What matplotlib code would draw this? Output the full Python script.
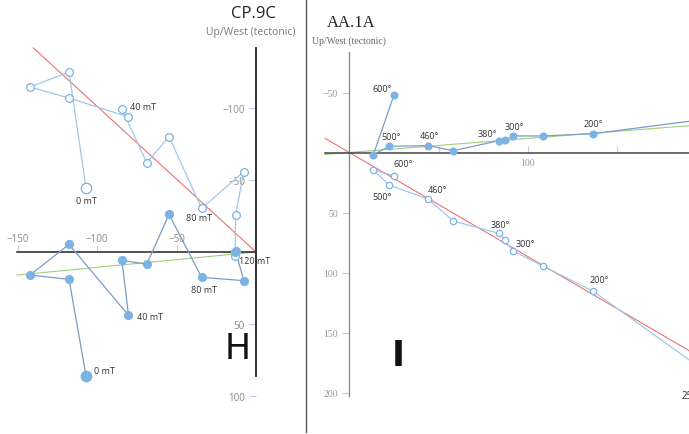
import matplotlib
matplotlib.use('Agg')
import matplotlib.pyplot as plt
from matplotlib.lines import Line2D

W, H = 689, 435

# ---- CP.9C (AF steps), shared horizontal coordinate; filled = horizontal, open = vertical
cp_x     = [-106.9, -117.6, -142.1, -117.6, -80.2, -84.3, -68.7, -54.7, -34.2, -7.7, -12.8, -13.2]
cp_horiz = [85.9, 19.0, 16.0, -5.3, 44.0, 5.8, 8.5, -26.2, 17.6, 19.9, -0.5, -0.3]
cp_vert  = [-44.4, -125.0, -114.6, -106.9, -93.8, -99.3, -62.0, -80.1, -30.3, -55.8, -25.7, 3.0]
cp_fit_red_x, cp_fit_red_y = [-140.0, 0.0], [-141.7, 0.0]
cp_fit_green_x, cp_fit_green_y = [-150.3, 0.0], [16.0, 0.0]
cp_open_labels = {0: '0 mT', 4: '40 mT', 8: '80 mT', 11: '120 mT'}
cp_filled_labels = {0: '0 mT', 4: '40 mT', 8: '80 mT'}

# ---- AA.1A (thermal steps)
aa_x     = [25.1, 13.5, 22.4, 44.3, 58.3, 83.7, 87.1, 91.9, 108.7, 136.8, 230.0]
aa_horiz = [-48.2, 1.8, -5.2, -5.7, -1.5, -9.8, -10.2, -13.8, -13.8, -15.7, -33.6]
aa_vert  = [19.3, 14.8, 27.1, 39.0, 57.1, 67.3, 73.2, 82.1, 94.8, 115.7, 214.8]
aa_fit_red_x, aa_fit_red_y = [-13.6, 230.0], [-11.8, 199.4]
aa_fit_green_x, aa_fit_green_y = [-13.6, 230.0], [1.6, -27.0]
aa_filled_labels = {0: '600°', 2: '500°', 3: '460°', 5: '380°', 7: '300°', 9: '200°'}
aa_open_labels = {0: '600°', 2: '500°', 3: '460°', 5: '380°', 7: '300°', 9: '200°'}

PT = '#7db3e3'
LINE_H = '#7a9cca'
LINE_V = '#a0c8ee'
RED = '#f07070'
GREEN = '#9dd07c'
SANS = 'Open Sans'
SERIF = 'Liberation Serif'

fig = plt.figure(figsize=(W / 100, H / 100), dpi=100)


def frame(rect, origin, scale):
    # rect: left, top, right, bottom in pixels; y grows downwards in the data
    x0, y0, x1, y1 = rect
    ax = fig.add_axes([x0 / W, 1 - y1 / H, (x1 - x0) / W, (y1 - y0) / H])
    ox, oy = origin
    sx, sy = scale
    ax.set_xlim((x0 - ox) / sx, (x1 - ox) / sx)
    ax.set_ylim((y1 - oy) / sy, (y0 - oy) / sy)
    ax.patch.set_alpha(0)
    return ax


def ftext(x, y, s, **kw):
    fig.text(x / W, 1 - y / H, s, **kw)


# ================= CP.9C =================
axH = frame((0, 0, 300, 435), (256, 253), (1.59, 1.44))
axH.spines['right'].set_visible(False)
axH.spines['bottom'].set_visible(False)
axH.spines['left'].set_position(('data', 0))
axH.spines['left'].set_bounds(-141.7, 86.1)
axH.spines['left'].set_color('#222222')
axH.spines['left'].set_linewidth(1.3)
axH.spines['top'].set_position(('data', 0))
axH.spines['top'].set_bounds(-150.3, 0)
axH.spines['top'].set_color('#333333')
axH.spines['top'].set_linewidth(1.2)
axH.xaxis.set_ticks_position('top')
axH.set_xticks([-150, -100, -50])
axH.set_yticks([-100, -50, 50, 100])
axH.tick_params(axis='x', direction='out', length=5, width=0.8, color='#d0d0d0',
                labelcolor='#8a8a8a', labelsize=7, pad=1)
axH.tick_params(axis='y', direction='out', length=5, width=0.8, color='#b3cdee',
                labelcolor='#8a8a8a', labelsize=7, pad=3)
for lab in axH.get_xticklabels() + axH.get_yticklabels():
    lab.set_family(SANS)

axH.plot(cp_fit_red_x, cp_fit_red_y, color=RED, lw=0.8, zorder=2)
axH.plot(cp_fit_green_x, cp_fit_green_y, color=GREEN, lw=0.8, zorder=2)
axH.plot(cp_x, cp_vert, color=LINE_V, lw=0.9, zorder=3)
axH.plot(cp_x, cp_horiz, color=LINE_H, lw=0.9, zorder=3)
axH.plot(cp_x[1:], cp_vert[1:], 'o', ms=5.6, mfc='white', mec=PT, mew=0.9, zorder=4)
axH.plot(cp_x[:1], cp_vert[:1], 'o', ms=7.5, mfc='white', mec=PT, mew=0.9, zorder=4)
axH.plot(cp_x[1:], cp_horiz[1:], 'o', ms=5.6, color=PT, zorder=4)
axH.plot(cp_x[:1], cp_horiz[:1], 'o', ms=7.5, color=PT, zorder=4)

cp_open_off = {0: (0, -12, 'center'), 4: (2, 10, 'left'), 8: (-3, -9, 'center'), 11: (4, -4, 'left')}
cp_filled_off = {0: (8, 5, 'left'), 4: (9, -1, 'left'), 8: (2, -12, 'center')}
for i, s in cp_open_labels.items():
    dx, dy, ha = cp_open_off[i]
    axH.annotate(s, (cp_x[i], cp_vert[i]), xytext=(dx, dy), textcoords='offset pixels',
                 ha=ha, va='center', fontsize=6.5, family=SANS, color='#333333', zorder=5)
for i, s in cp_filled_labels.items():
    dx, dy, ha = cp_filled_off[i]
    axH.annotate(s, (cp_x[i], cp_horiz[i]), xytext=(dx, dy), textcoords='offset pixels',
                 ha=ha, va='center', fontsize=6.5, family=SANS, color='#333333', zorder=5)

ftext(253, 14, 'CP.9C', ha='center', va='center', fontsize=12, family=SANS, color='#222222')
ftext(251, 32, 'Up/West (tectonic)', ha='center', va='center', fontsize=7.5, family=SANS, color='#7a7a7a')
ftext(238, 349, 'H', ha='center', va='center', fontsize=25, family='DejaVu Sans', color='#111111')

# ================= AA.1A =================
axI = frame((307, 0, 689, 435), (349.3, 153.5), (1.784, 1.2))
axI.spines['right'].set_visible(False)
axI.spines['top'].set_visible(False)
axI.spines['left'].set_position(('data', 0))
axI.spines['left'].set_bounds(-83.75, 202.9)
axI.spines['left'].set_color('#8a8a8a')
axI.spines['left'].set_linewidth(1.0)
axI.spines['bottom'].set_position(('data', 0))
axI.spines['bottom'].set_bounds(-13.6, 230)
axI.spines['bottom'].set_color('#444444')
axI.spines['bottom'].set_linewidth(1.1)
axI.set_xticks([50, 100, 150])
axI.set_xticklabels(['', '100', ''])
axI.set_yticks([-50, 50, 100, 150, 200])
axI.tick_params(axis='x', direction='in', length=5, width=0.8, color='#b8d0ee',
                labelcolor='#999999', labelsize=7, pad=4)
axI.tick_params(axis='y', direction='out', length=5, width=0.8, color='#b8d0ee',
                labelcolor='#999999', labelsize=7, pad=3)
for lab in axI.get_xticklabels() + axI.get_yticklabels():
    lab.set_family(SERIF)

axI.plot(aa_fit_red_x, aa_fit_red_y, color=RED, lw=0.8, zorder=2)
axI.plot(aa_fit_green_x, aa_fit_green_y, color=GREEN, lw=0.8, zorder=2)
axI.plot(aa_x, aa_vert, color=LINE_V, lw=0.9, zorder=3)
axI.plot(aa_x, aa_horiz, color=LINE_H, lw=0.9, zorder=3)
axI.plot(aa_x, aa_vert, 'o', ms=4.6, mfc='white', mec=PT, mew=0.9, zorder=4)
axI.plot(aa_x, aa_horiz, 'o', ms=4.8, color=PT, zorder=4)

aa_filled_off = {0: (-12, 6), 2: (2, 10), 3: (1, 10), 5: (-11, 7), 7: (1, 9), 9: (0, 10)}
aa_open_off = {0: (9, 12), 2: (-7, -11), 3: (9, 10), 5: (2, 9), 7: (12, 8), 9: (6, 12)}
for i, s in aa_filled_labels.items():
    axI.annotate(s, (aa_x[i], aa_horiz[i]), xytext=aa_filled_off[i], textcoords='offset pixels',
                 ha='center', va='center', fontsize=6.5, family=SANS, color='#333333', zorder=5)
for i, s in aa_open_labels.items():
    axI.annotate(s, (aa_x[i], aa_vert[i]), xytext=aa_open_off[i], textcoords='offset pixels',
                 ha='center', va='center', fontsize=6.5, family=SANS, color='#333333', zorder=5)

ftext(327, 23, 'AA.1A', ha='left', va='center', fontsize=12, family=SERIF, color='#222222')
ftext(312, 41, 'Up/West (tectonic)', ha='left', va='center', fontsize=7, family=SERIF, color='#666666')
ftext(398.7, 356, 'I', ha='center', va='center', fontsize=25, family='DejaVu Sans',
      weight='bold', color='#111111')
# partly visible label at the right edge, as in the original
ftext(682, 397, '250', ha='left', va='center', fontsize=7, family=SANS, color='#333333')

# panel divider
fig.add_artist(Line2D([306 / W, 306 / W], [1 - 433 / H, 1], transform=fig.transFigure,
                      color='#555555', lw=1.0))

fig.savefig('out.png', dpi=100)
